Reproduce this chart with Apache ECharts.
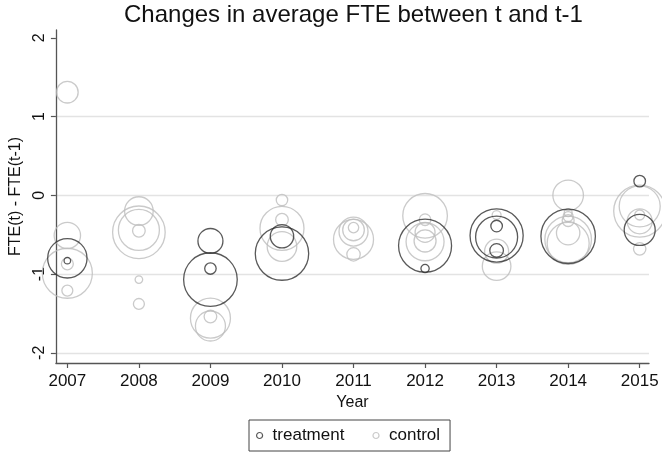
<!DOCTYPE html>
<html>
<head>
<meta charset="utf-8">
<script src="https://cdn.jsdelivr.net/npm/echarts@6/dist/echarts.min.js"></script>
<style>html,body{margin:0;padding:0;background:#fff}#c{width:662px;height:456px}</style>
</head>
<body>
<div id="c"></div>
<script>
const titleText = 'Changes in average FTE between t and t-1';
const xTicks = [2007, 2008, 2009, 2010, 2011, 2012, 2013, 2014, 2015];
const yTicks = [-2, -1, 0, 1, 2];

const treatYear   = [2007, 2007, 2009, 2009, 2009, 2010, 2010, 2012, 2012, 2013, 2013, 2013, 2013, 2014, 2015, 2015];
const treatChange = [-0.80, -0.83, -0.58, -0.93, -1.07, -0.52, -0.74, -0.64, -0.93, -0.51, -0.53, -0.39, -0.70, -0.52, 0.18, -0.44];
const treatWeight = [54.4, 1.5, 21.9, 4.6, 100.8, 19.2, 100, 98.5, 2.4, 99, 61.9, 4.7, 6.5, 104, 4.7, 33.7];

const ctrlYear   = [2007, 2007, 2007, 2007, 2007,
                    2008, 2008, 2008, 2008, 2008, 2008,
                    2009, 2009, 2009,
                    2010, 2010, 2010, 2010,
                    2011, 2011, 2011, 2011, 2011,
                    2012, 2012, 2012, 2012, 2012,
                    2013, 2013, 2013,
                    2014, 2014, 2014, 2014, 2014, 2014, 2014,
                    2015, 2015, 2015, 2015, 2015];
const ctrlChange = [1.31, -0.51, -0.87, -0.99, -1.21,
                    -0.20, -0.47, -0.44, -0.45, -1.07, -1.38,
                    -1.54, -1.56, -1.66,
                    -0.06, -0.31, -0.42, -0.65,
                    -0.56, -0.46, -0.44, -0.41, -0.75,
                    -0.26, -0.31, -0.47, -0.59, -0.58,
                    -0.25, -0.71, -0.90,
                    0.00, -0.56, -0.61, -0.48, -0.22, -0.27, -0.32,
                    -0.20, -0.14, -0.25, -0.33, -0.68];
const ctrlWeight = [16.4, 24.4, 5, 87.7, 4.2,
                    28.7, 97, 59, 5.6, 2, 4.2,
                    5.6, 56.1, 31.6,
                    4.6, 5.6, 67.9, 30.7,
                    56.1, 29.5, 16.4, 3.8, 6.3,
                    69.8, 4.7, 14, 50.6, 17,
                    2.8, 20.2, 28.7,
                    32.8, 76.2, 61.9, 19.2, 2.2, 3.5, 5,
                    94.8, 59, 3.5, 21.9, 5.4];

const treatColor = '#303030';
const ctrlColor = '#bdbdbd';
const sizeOf = function (val) { return 5.34 * Math.sqrt(val[2]); };

function build(years, vals, wts) {
  return years.map(function (y, i) { return [y, vals[i], wts[i]]; });
}

const chart = echarts.init(document.getElementById('c'), null, {renderer: 'canvas'});
const fontFam = '"Liberation Sans", Arial, Helvetica, sans-serif';
chart.setOption({
  animation: false,
  backgroundColor: '#fff',
  title: {
    text: titleText,
    left: 119, top: -2,
    textStyle: {fontFamily: fontFam, fontWeight: 'normal', fontSize: 24, color: '#111'}
  },
  grid: {left: 53, right: 13, top: 30, bottom: 93, containLabel: false},
  xAxis: {
    type: 'value', min: 2006.84, max: 2015.13,
    name: 'Year', nameLocation: 'middle', nameGap: 27,
    nameTextStyle: {fontFamily: fontFam, fontSize: 16, color: '#111'},
    axisLine: {show: true, onZero: false, lineStyle: {color: '#555', width: 1.3}},
    axisTick: {show: true, length: 5, customValues: xTicks, lineStyle: {color: '#555', width: 1.2}},
    axisLabel: {customValues: xTicks, margin: 10, fontFamily: fontFam, fontSize: 17, color: '#111',
      formatter: function (v) { return String(v); }},
    splitLine: {show: false}
  },
  yAxis: {
    type: 'value', min: -2.13, max: 2.1,
    name: 'FTE(t) - FTE(t-1)', nameLocation: 'middle', nameGap: 30,
    nameTextStyle: {fontFamily: fontFam, fontSize: 16, color: '#111'},
    axisLine: {show: true, onZero: false, lineStyle: {color: '#555', width: 1.3}},
    axisTick: {show: true, length: 5, customValues: yTicks, lineStyle: {color: '#555', width: 1.2}},
    axisLabel: {customValues: yTicks, rotate: 90, margin: 8, fontFamily: fontFam, fontSize: 16, color: '#111'},
    splitLine: {show: true, lineStyle: {color: ['#e3e3e3', '#e3e3e3', '#e3e3e3', '#e3e3e3', 'rgba(0,0,0,0)'], width: 1.3}}
  },
  legend: {
    left: 249, top: 420, orient: 'horizontal',
    padding: [7, 10, 7, 7],
    borderColor: '#444', borderWidth: 1,
    itemWidth: 6, itemHeight: 6, itemGap: 28,
    textStyle: {fontFamily: fontFam, fontSize: 17, color: '#111', padding: [0, 0, 0, 5]},
    data: [
      {name: 'treatment', icon: 'circle', itemStyle: {color: '#fff', borderColor: treatColor, borderWidth: 1.2}},
      {name: 'control', icon: 'circle', itemStyle: {color: '#fff', borderColor: ctrlColor, borderWidth: 1.2}}
    ]
  },
  series: [
    {
      name: 'treatment', type: 'scatter', symbol: 'circle', symbolSize: sizeOf,
      data: build(treatYear, treatChange, treatWeight),
      itemStyle: {color: 'rgba(0,0,0,0)', borderColor: treatColor, borderWidth: 1.3},
      emphasis: {disabled: true}, z: 3
    },
    {
      name: 'control', type: 'scatter', symbol: 'circle', symbolSize: sizeOf,
      data: build(ctrlYear, ctrlChange, ctrlWeight),
      itemStyle: {color: 'rgba(0,0,0,0)', borderColor: ctrlColor, borderWidth: 1.3},
      emphasis: {disabled: true}, z: 2
    }
  ]
});
</script>
</body>
</html>
